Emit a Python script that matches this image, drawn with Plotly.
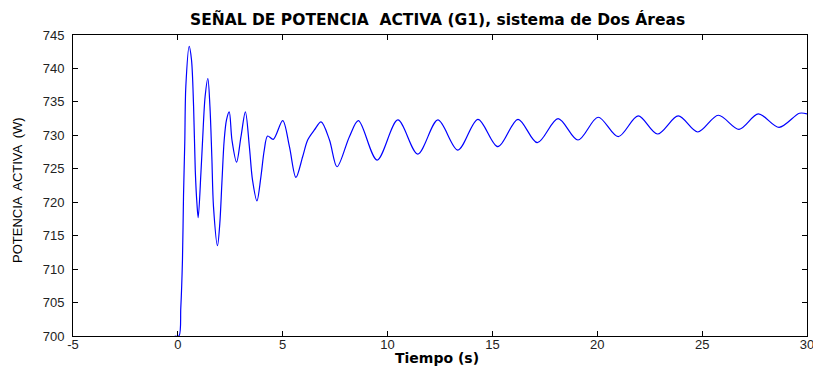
import plotly.graph_objects as go

# Active power of generator G1 after the disturbance (two-area system)
tiempo = [-0.15, 0.05, 0.14, 0.22, 0.27, 0.33, 0.38, 0.54,
          0.65, 0.75, 0.83, 0.91, 0.97,
          1.10, 1.18, 1.30, 1.43,
          1.53, 1.62, 1.70, 1.89,
          2.00, 2.10, 2.21, 2.32, 2.45,
          2.58, 2.80, 3.01, 3.22,
          3.41, 3.56, 3.77,
          3.96, 4.12, 4.28, 4.55, 5.00,
          5.32, 5.63, 5.95, 6.19, 6.51, 6.83,
          7.23, 7.59, 8.18, 8.61,
          9.50, 10.49, 11.44, 12.40, 13.35, 14.31, 15.26, 16.22,
          17.14, 18.13, 19.08, 20.04, 21.00, 21.95, 22.87, 23.86,
          24.79, 25.77, 26.76, 27.68, 28.67, 29.64, 30.00]
potencia = [700.0, 700.0, 704.2, 711.4, 721.0, 729.0, 737.3, 743.3,
            741.3, 734.3, 724.8, 719.8, 717.7,
            724.4, 729.3, 735.8, 738.5,
            734.3, 726.8, 719.3, 713.5,
            716.8, 722.9, 729.3, 732.3, 733.5,
            729.3, 726.0, 729.8, 733.5,
            728.3, 723.3, 720.2,
            723.8, 727.8, 729.9, 729.4, 732.2,
            728.3, 723.7, 726.8, 729.3, 730.8, 732.0,
            729.3, 725.3, 729.8, 732.2,
            726.3, 732.3, 727.2, 732.3, 727.8, 732.4, 728.3, 732.4,
            728.9, 732.5, 729.3, 732.7, 729.8, 732.9, 730.2, 732.9,
            730.5, 733.0, 730.9, 733.2, 731.2, 733.3, 733.2]

x_ticks = [-5, 0, 5, 10, 15, 20, 25, 30]
x_labels = ["-5", "0", "5", "10", "15", "20", "25", "30"]
y_ticks = [700, 705, 710, 715, 720, 725, 730, 735, 740, 745]

W, H = 813, 367
L, R, T, B = 73, 6, 35, 31

fig = go.Figure(go.Scatter(
    x=tiempo, y=potencia, mode="lines",
    line=dict(color="#0000ff", width=1.2, shape="spline", smoothing=0.9),
    cliponaxis=True, showlegend=False))

tick_font = dict(family="Liberation Sans, Arial, sans-serif", size=13, color="#222222")
axis_common = dict(
    showline=True, linecolor="black", linewidth=1, mirror="ticks",
    ticks="inside", ticklen=5, tickcolor="black", tickwidth=1,
    showgrid=False, zeroline=False, tickfont=tick_font,
    ticklabeloverflow="allow", automargin=False,
)

fig.update_xaxes(range=[-5, 30], tickvals=x_ticks, ticktext=x_labels,
                 ticklabelstandoff=-4, **axis_common)
fig.update_yaxes(range=[700, 745], tickvals=y_ticks, ticklabelstandoff=5,
                 **axis_common)

pw = W - L - R
ph = H - T - B

fig.update_layout(
    width=W, height=H,
    margin=dict(l=L, r=R, t=T, b=B, autoexpand=False),
    paper_bgcolor="white", plot_bgcolor="white",
    annotations=[
        dict(text="<b>SEÑAL DE POTENCIA\u00a0 ACTIVA (G1), sistema de Dos Áreas</b>",
             x=(437 - L) / pw, xref="paper", y=1 + (T - 19) / ph, yref="paper",
             xanchor="center", yanchor="middle", showarrow=False,
             font=dict(family="DejaVu Sans, sans-serif", size=15.5, color="black")),
        dict(text="<b>Tiempo (s)</b>",
             x=(437 - L) / pw, xref="paper", y=-(358 - T - ph) / ph, yref="paper",
             xanchor="center", yanchor="middle", showarrow=False,
             font=dict(family="DejaVu Sans, sans-serif", size=14, color="black")),
        dict(text="POTENCIA  ACTIVA  (W)",
             x=(18 - L) / pw, xref="paper", y=(H - B - 190) / ph, yref="paper",
             textangle=-90, showarrow=False, xanchor="center", yanchor="middle",
             font=dict(family="Liberation Sans Narrow, Arial Narrow, Liberation Sans, sans-serif",
                       size=13, color="black")),
    ],
)

fig.write_html("out.html")
